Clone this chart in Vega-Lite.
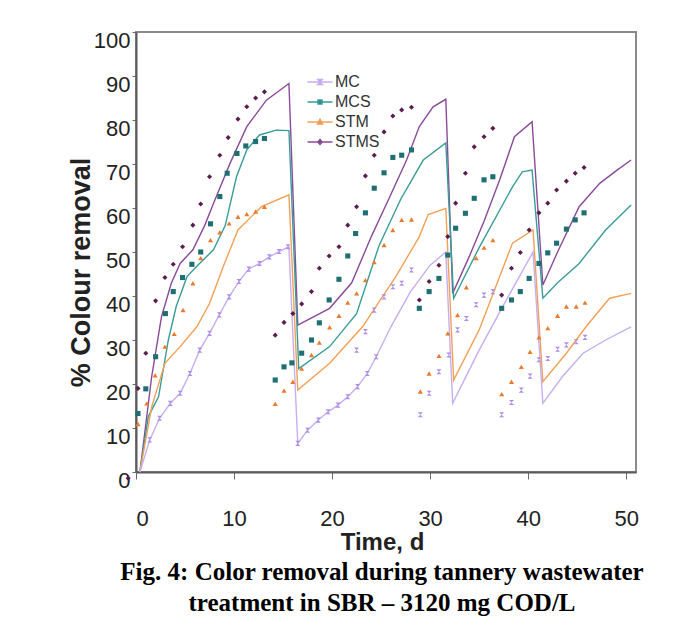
{
  "$schema": "https://vega.github.io/schema/vega-lite/v6.json",
  "width": 500,
  "height": 440,
  "autosize": {"type": "none"},
  "padding": {"left": 136, "top": 32, "right": 57, "bottom": 161},
  "background": "white",
  "title": {
    "text": ["Fig. 4: Color removal during tannery wastewater", "treatment in SBR – 3120 mg COD/L"],
    "orient": "bottom",
    "anchor": "middle",
    "font": "Liberation Serif",
    "fontSize": 25,
    "fontWeight": "bold",
    "color": "#000000",
    "lineHeight": 31,
    "offset": 6,
    "dx": -4
  },
  "config": {
    "font": "Liberation Sans",
    "view": {"stroke": "#8a8a8a", "strokeWidth": 2},
    "axis": {
      "grid": false,
      "domainColor": "#5a5a5a",
      "domainWidth": 2,
      "tickColor": "#6a6a6a",
      "labelFont": "Liberation Sans",
      "labelFontSize": 22,
      "labelColor": "#222222",
      "titleFont": "Liberation Sans",
      "titleFontWeight": "bold",
      "titleColor": "#222222"
    },
    "legend": {"padding": 0}
  },
  "datasets": {
    "pts": [
      {"series": "STMS", "day": -0.8, "pct": -1.4},
      {"series": "STMS", "day": 0.2, "pct": 19},
      {"series": "STMS", "day": 1.0, "pct": 27},
      {"series": "STMS", "day": 2.0, "pct": 38.9},
      {"series": "STMS", "day": 2.95, "pct": 44.2},
      {"series": "STMS", "day": 3.8, "pct": 47.2},
      {"series": "STMS", "day": 4.75, "pct": 51.2},
      {"series": "STMS", "day": 5.8, "pct": 56.1},
      {"series": "STMS", "day": 6.6, "pct": 60.9},
      {"series": "STMS", "day": 7.5, "pct": 67.1},
      {"series": "STMS", "day": 8.55, "pct": 72},
      {"series": "STMS", "day": 9.4, "pct": 76},
      {"series": "STMS", "day": 10.4, "pct": 80.2},
      {"series": "STMS", "day": 11.3, "pct": 83},
      {"series": "STMS", "day": 12.2, "pct": 85},
      {"series": "STMS", "day": 13.1, "pct": 86.4},
      {"series": "STMS", "day": 14.2, "pct": 31.1},
      {"series": "STMS", "day": 15.1, "pct": 34},
      {"series": "STMS", "day": 16.0, "pct": 36},
      {"series": "STMS", "day": 16.9, "pct": 38.2},
      {"series": "STMS", "day": 17.9, "pct": 41},
      {"series": "STMS", "day": 18.7, "pct": 46.3},
      {"series": "STMS", "day": 19.7, "pct": 49.1},
      {"series": "STMS", "day": 20.7, "pct": 51.2},
      {"series": "STMS", "day": 21.6, "pct": 56.1},
      {"series": "STMS", "day": 22.5, "pct": 60.3},
      {"series": "STMS", "day": 23.4, "pct": 67.3},
      {"series": "STMS", "day": 24.3, "pct": 72},
      {"series": "STMS", "day": 25.3, "pct": 77.3},
      {"series": "STMS", "day": 26.2, "pct": 80.9},
      {"series": "STMS", "day": 27.1, "pct": 82.3},
      {"series": "STMS", "day": 28.1, "pct": 82.9},
      {"series": "STMS", "day": 28.9, "pct": 39.1},
      {"series": "STMS", "day": 29.9, "pct": 43.3},
      {"series": "STMS", "day": 30.9, "pct": 47},
      {"series": "STMS", "day": 31.8, "pct": 53.5},
      {"series": "STMS", "day": 32.6, "pct": 61.1},
      {"series": "STMS", "day": 33.6, "pct": 67.9},
      {"series": "STMS", "day": 34.5, "pct": 73.9},
      {"series": "STMS", "day": 35.5, "pct": 76.2},
      {"series": "STMS", "day": 36.4, "pct": 78.1},
      {"series": "STMS", "day": 37.3, "pct": 40.2},
      {"series": "STMS", "day": 38.3, "pct": 46.3},
      {"series": "STMS", "day": 39.2, "pct": 49.9},
      {"series": "STMS", "day": 40.1, "pct": 55},
      {"series": "STMS", "day": 41.1, "pct": 58.9},
      {"series": "STMS", "day": 42.0, "pct": 61.1},
      {"series": "STMS", "day": 42.9, "pct": 64.1},
      {"series": "STMS", "day": 43.9, "pct": 66.1},
      {"series": "STMS", "day": 44.8, "pct": 67.9},
      {"series": "STMS", "day": 45.7, "pct": 69.2},
      {"series": "MCS", "day": 0.2, "pct": 13.3},
      {"series": "MCS", "day": 1.0, "pct": 18.9},
      {"series": "MCS", "day": 2.0, "pct": 26.2},
      {"series": "MCS", "day": 3.0, "pct": 36},
      {"series": "MCS", "day": 3.8, "pct": 41},
      {"series": "MCS", "day": 4.75, "pct": 44.2},
      {"series": "MCS", "day": 5.7, "pct": 47.2},
      {"series": "MCS", "day": 6.6, "pct": 50},
      {"series": "MCS", "day": 7.6, "pct": 56.4},
      {"series": "MCS", "day": 8.55, "pct": 62.6},
      {"series": "MCS", "day": 9.3, "pct": 67.9},
      {"series": "MCS", "day": 10.3, "pct": 72.4},
      {"series": "MCS", "day": 11.2, "pct": 74.1},
      {"series": "MCS", "day": 12.2, "pct": 75.1},
      {"series": "MCS", "day": 13.1, "pct": 75.8},
      {"series": "MCS", "day": 14.2, "pct": 20.9},
      {"series": "MCS", "day": 15.1, "pct": 23.9},
      {"series": "MCS", "day": 15.9, "pct": 24.8},
      {"series": "MCS", "day": 16.9, "pct": 27},
      {"series": "MCS", "day": 17.9, "pct": 30},
      {"series": "MCS", "day": 18.7, "pct": 33.9},
      {"series": "MCS", "day": 19.7, "pct": 39.1},
      {"series": "MCS", "day": 20.7, "pct": 43.8},
      {"series": "MCS", "day": 21.6, "pct": 49.1},
      {"series": "MCS", "day": 22.4, "pct": 54.2},
      {"series": "MCS", "day": 23.4, "pct": 58.9},
      {"series": "MCS", "day": 24.3, "pct": 64.5},
      {"series": "MCS", "day": 25.3, "pct": 68},
      {"series": "MCS", "day": 26.2, "pct": 71.5},
      {"series": "MCS", "day": 27.1, "pct": 72},
      {"series": "MCS", "day": 28.1, "pct": 73.2},
      {"series": "MCS", "day": 28.9, "pct": 37.2},
      {"series": "MCS", "day": 29.9, "pct": 41},
      {"series": "MCS", "day": 30.9, "pct": 44},
      {"series": "MCS", "day": 31.8, "pct": 49.3},
      {"series": "MCS", "day": 32.6, "pct": 55.4},
      {"series": "MCS", "day": 33.6, "pct": 58.8},
      {"series": "MCS", "day": 34.5, "pct": 62.2},
      {"series": "MCS", "day": 35.5, "pct": 66.4},
      {"series": "MCS", "day": 36.4, "pct": 67.1},
      {"series": "MCS", "day": 37.3, "pct": 37.2},
      {"series": "MCS", "day": 38.3, "pct": 39.1},
      {"series": "MCS", "day": 39.2, "pct": 41},
      {"series": "MCS", "day": 40.1, "pct": 44},
      {"series": "MCS", "day": 41.1, "pct": 47.4},
      {"series": "MCS", "day": 42.0, "pct": 49.8},
      {"series": "MCS", "day": 42.9, "pct": 52},
      {"series": "MCS", "day": 43.9, "pct": 55.2},
      {"series": "MCS", "day": 44.8, "pct": 57.3},
      {"series": "MCS", "day": 45.7, "pct": 58.9},
      {"series": "STM", "day": 0.2, "pct": 10.9},
      {"series": "STM", "day": 1.1, "pct": 15.6},
      {"series": "STM", "day": 1.95, "pct": 22},
      {"series": "STM", "day": 2.95, "pct": 28.5},
      {"series": "STM", "day": 3.9, "pct": 31.4},
      {"series": "STM", "day": 4.8, "pct": 36.8},
      {"series": "STM", "day": 5.8, "pct": 42.9},
      {"series": "STM", "day": 6.6, "pct": 48.6},
      {"series": "STM", "day": 7.6, "pct": 52.7},
      {"series": "STM", "day": 8.55, "pct": 54.5},
      {"series": "STM", "day": 9.5, "pct": 56.5},
      {"series": "STM", "day": 10.4, "pct": 58},
      {"series": "STM", "day": 11.3, "pct": 58.6},
      {"series": "STM", "day": 12.2, "pct": 59.2},
      {"series": "STM", "day": 13.1, "pct": 60.3},
      {"series": "STM", "day": 14.2, "pct": 15.5},
      {"series": "STM", "day": 15.1, "pct": 18.5},
      {"series": "STM", "day": 16.0, "pct": 20.5},
      {"series": "STM", "day": 16.9, "pct": 23.5},
      {"series": "STM", "day": 17.9, "pct": 26.6},
      {"series": "STM", "day": 18.7, "pct": 29.4},
      {"series": "STM", "day": 19.75, "pct": 32.9},
      {"series": "STM", "day": 20.7, "pct": 35.5},
      {"series": "STM", "day": 21.6, "pct": 38.5},
      {"series": "STM", "day": 22.5, "pct": 40.6},
      {"series": "STM", "day": 23.4, "pct": 43.6},
      {"series": "STM", "day": 24.3, "pct": 47.7},
      {"series": "STM", "day": 25.3, "pct": 51.6},
      {"series": "STM", "day": 26.2, "pct": 55},
      {"series": "STM", "day": 27.1, "pct": 57.3},
      {"series": "STM", "day": 28.1, "pct": 57.4},
      {"series": "STM", "day": 29.0, "pct": 18.3},
      {"series": "STM", "day": 29.9, "pct": 22.4},
      {"series": "STM", "day": 30.9, "pct": 26.4},
      {"series": "STM", "day": 31.8, "pct": 31.5},
      {"series": "STM", "day": 32.8, "pct": 35.7},
      {"series": "STM", "day": 33.7, "pct": 42},
      {"series": "STM", "day": 34.7, "pct": 48.6},
      {"series": "STM", "day": 35.5, "pct": 51},
      {"series": "STM", "day": 36.4, "pct": 52.7},
      {"series": "STM", "day": 37.3, "pct": 17.7},
      {"series": "STM", "day": 38.3, "pct": 20.5},
      {"series": "STM", "day": 39.3, "pct": 23.9},
      {"series": "STM", "day": 40.2, "pct": 27.3},
      {"series": "STM", "day": 41.1, "pct": 30.6},
      {"series": "STM", "day": 42.0, "pct": 32.7},
      {"series": "STM", "day": 43.0, "pct": 35.5},
      {"series": "STM", "day": 43.9, "pct": 37.6},
      {"series": "STM", "day": 44.9, "pct": 37.6},
      {"series": "STM", "day": 45.8, "pct": 38.5},
      {"series": "MC", "day": 1.4, "pct": 7.3},
      {"series": "MC", "day": 2.4, "pct": 12.2},
      {"series": "MC", "day": 3.5, "pct": 15.6},
      {"series": "MC", "day": 4.5, "pct": 17.9},
      {"series": "MC", "day": 5.5, "pct": 22.4},
      {"series": "MC", "day": 6.5, "pct": 27.7},
      {"series": "MC", "day": 7.5, "pct": 31.5},
      {"series": "MC", "day": 8.5, "pct": 35.7},
      {"series": "MC", "day": 9.5, "pct": 39.8},
      {"series": "MC", "day": 10.5, "pct": 43.3},
      {"series": "MC", "day": 11.5, "pct": 46.1},
      {"series": "MC", "day": 12.6, "pct": 47.4},
      {"series": "MC", "day": 13.6, "pct": 48.9},
      {"series": "MC", "day": 14.6, "pct": 50.1},
      {"series": "MC", "day": 15.5, "pct": 51.2},
      {"series": "MC", "day": 16.5, "pct": 6.5},
      {"series": "MC", "day": 17.5, "pct": 9.5},
      {"series": "MC", "day": 18.6, "pct": 11.8},
      {"series": "MC", "day": 19.6, "pct": 13.7},
      {"series": "MC", "day": 20.6, "pct": 15.2},
      {"series": "MC", "day": 21.6, "pct": 17.1},
      {"series": "MC", "day": 22.6, "pct": 19.4},
      {"series": "MC", "day": 23.6, "pct": 22.4},
      {"series": "MC", "day": 24.5, "pct": 26.2},
      {"series": "MC", "day": 22.5, "pct": 27.7},
      {"series": "MC", "day": 23.4, "pct": 31.9},
      {"series": "MC", "day": 24.3, "pct": 36.8},
      {"series": "MC", "day": 25.3, "pct": 39.8},
      {"series": "MC", "day": 26.2, "pct": 42.1},
      {"series": "MC", "day": 27.1, "pct": 42.9},
      {"series": "MC", "day": 28.1, "pct": 45.9},
      {"series": "MC", "day": 29.0, "pct": 13},
      {"series": "MC", "day": 29.9, "pct": 17.9},
      {"series": "MC", "day": 30.9, "pct": 22.8},
      {"series": "MC", "day": 31.9, "pct": 26.6},
      {"series": "MC", "day": 32.8, "pct": 32.3},
      {"series": "MC", "day": 33.7, "pct": 34.9},
      {"series": "MC", "day": 34.7, "pct": 38},
      {"series": "MC", "day": 35.5, "pct": 40.2},
      {"series": "MC", "day": 36.4, "pct": 41},
      {"series": "MC", "day": 37.3, "pct": 13},
      {"series": "MC", "day": 38.3, "pct": 15.8},
      {"series": "MC", "day": 39.3, "pct": 18.6},
      {"series": "MC", "day": 40.2, "pct": 21.8},
      {"series": "MC", "day": 41.1, "pct": 25.5},
      {"series": "MC", "day": 42.0, "pct": 25.8},
      {"series": "MC", "day": 43.0, "pct": 27.9},
      {"series": "MC", "day": 43.9, "pct": 28.9},
      {"series": "MC", "day": 44.9, "pct": 29.6},
      {"series": "MC", "day": 45.8, "pct": 30.6}
    ],
    "lines": [
      {"series": "STMS", "day": 0.4, "pct": 0},
      {"series": "STMS", "day": 1.6, "pct": 21.7},
      {"series": "STMS", "day": 2.6, "pct": 35.3},
      {"series": "STMS", "day": 3.6, "pct": 42.9},
      {"series": "STMS", "day": 4.5, "pct": 47.4},
      {"series": "STMS", "day": 5.8, "pct": 50.5},
      {"series": "STMS", "day": 7.0, "pct": 56},
      {"series": "STMS", "day": 7.9, "pct": 61},
      {"series": "STMS", "day": 9.6, "pct": 70.2},
      {"series": "STMS", "day": 11.3, "pct": 78.5},
      {"series": "STMS", "day": 13.3, "pct": 84.5},
      {"series": "STMS", "day": 15.6, "pct": 88.3},
      {"series": "STMS", "day": 16.5, "pct": 33.4},
      {"series": "STMS", "day": 19.75, "pct": 37.2},
      {"series": "STMS", "day": 22.0, "pct": 43},
      {"series": "STMS", "day": 24.0, "pct": 53.5},
      {"series": "STMS", "day": 25.9, "pct": 62.6},
      {"series": "STMS", "day": 27.6, "pct": 70.9},
      {"series": "STMS", "day": 28.9, "pct": 78.5},
      {"series": "STMS", "day": 30.3, "pct": 83},
      {"series": "STMS", "day": 31.6, "pct": 84.7},
      {"series": "STMS", "day": 32.3, "pct": 40.6},
      {"series": "STMS", "day": 34.0, "pct": 49},
      {"series": "STMS", "day": 35.5, "pct": 57},
      {"series": "STMS", "day": 37.1, "pct": 66.4},
      {"series": "STMS", "day": 38.6, "pct": 76.2},
      {"series": "STMS", "day": 40.4, "pct": 79.6},
      {"series": "STMS", "day": 41.5, "pct": 42.5},
      {"series": "STMS", "day": 43.0, "pct": 50},
      {"series": "STMS", "day": 45.2, "pct": 60.3},
      {"series": "STMS", "day": 47.3, "pct": 65.6},
      {"series": "STMS", "day": 49.0, "pct": 68.5},
      {"series": "STMS", "day": 50.5, "pct": 70.9},
      {"series": "MCS", "day": 0.4, "pct": 0},
      {"series": "MCS", "day": 1.25, "pct": 12.6},
      {"series": "MCS", "day": 2.3, "pct": 17.1},
      {"series": "MCS", "day": 3.3, "pct": 30},
      {"series": "MCS", "day": 4.1, "pct": 37.6},
      {"series": "MCS", "day": 5.2, "pct": 44.4},
      {"series": "MCS", "day": 6.3, "pct": 47},
      {"series": "MCS", "day": 7.9, "pct": 50.5},
      {"series": "MCS", "day": 9.1, "pct": 56},
      {"series": "MCS", "day": 10.25, "pct": 67.1},
      {"series": "MCS", "day": 11.3, "pct": 73.2},
      {"series": "MCS", "day": 12.6, "pct": 76.6},
      {"series": "MCS", "day": 14.3, "pct": 77.7},
      {"series": "MCS", "day": 15.6, "pct": 77.6},
      {"series": "MCS", "day": 16.6, "pct": 23.5},
      {"series": "MCS", "day": 19.75, "pct": 28.5},
      {"series": "MCS", "day": 22.5, "pct": 36},
      {"series": "MCS", "day": 24.8, "pct": 51.5},
      {"series": "MCS", "day": 27.0, "pct": 62},
      {"series": "MCS", "day": 29.3, "pct": 70.9},
      {"series": "MCS", "day": 31.6, "pct": 74.8},
      {"series": "MCS", "day": 32.4, "pct": 39.5},
      {"series": "MCS", "day": 35.0, "pct": 51},
      {"series": "MCS", "day": 38.4, "pct": 64.8},
      {"series": "MCS", "day": 39.4, "pct": 68.2},
      {"series": "MCS", "day": 40.4, "pct": 68.6},
      {"series": "MCS", "day": 41.5, "pct": 39.5},
      {"series": "MCS", "day": 43.0, "pct": 43},
      {"series": "MCS", "day": 45.2, "pct": 47.4},
      {"series": "MCS", "day": 47.9, "pct": 55},
      {"series": "MCS", "day": 50.5, "pct": 60.7},
      {"series": "STM", "day": 0.4, "pct": 0},
      {"series": "STM", "day": 1.6, "pct": 14.8},
      {"series": "STM", "day": 2.95, "pct": 24.7},
      {"series": "STM", "day": 4.5, "pct": 28.5},
      {"series": "STM", "day": 6.2, "pct": 33},
      {"series": "STM", "day": 7.5, "pct": 38.3},
      {"series": "STM", "day": 8.9, "pct": 46.7},
      {"series": "STM", "day": 10.4, "pct": 55},
      {"series": "STM", "day": 12.8, "pct": 60.3},
      {"series": "STM", "day": 15.6, "pct": 63},
      {"series": "STM", "day": 16.5, "pct": 18.6},
      {"series": "STM", "day": 19.75, "pct": 24.7},
      {"series": "STM", "day": 23.1, "pct": 33},
      {"series": "STM", "day": 26.5, "pct": 44.4},
      {"series": "STM", "day": 28.9, "pct": 53.5},
      {"series": "STM", "day": 29.8, "pct": 58.5},
      {"series": "STM", "day": 31.6, "pct": 59.9},
      {"series": "STM", "day": 32.4, "pct": 20.9},
      {"series": "STM", "day": 35.0, "pct": 32.3},
      {"series": "STM", "day": 38.4, "pct": 52},
      {"series": "STM", "day": 40.5, "pct": 55},
      {"series": "STM", "day": 41.5, "pct": 20.5},
      {"series": "STM", "day": 43.9, "pct": 27},
      {"series": "STM", "day": 45.9, "pct": 33},
      {"series": "STM", "day": 48.3, "pct": 39.5},
      {"series": "STM", "day": 50.5, "pct": 40.6},
      {"series": "MC", "day": 0.4, "pct": 0},
      {"series": "MC", "day": 1.4, "pct": 7.3},
      {"series": "MC", "day": 2.4, "pct": 12.2},
      {"series": "MC", "day": 3.5, "pct": 15.6},
      {"series": "MC", "day": 4.5, "pct": 17.9},
      {"series": "MC", "day": 5.5, "pct": 22.4},
      {"series": "MC", "day": 6.5, "pct": 27.7},
      {"series": "MC", "day": 7.5, "pct": 31.5},
      {"series": "MC", "day": 8.5, "pct": 35.7},
      {"series": "MC", "day": 9.5, "pct": 39.8},
      {"series": "MC", "day": 10.5, "pct": 43.3},
      {"series": "MC", "day": 11.5, "pct": 46.1},
      {"series": "MC", "day": 12.6, "pct": 47.4},
      {"series": "MC", "day": 13.6, "pct": 48.9},
      {"series": "MC", "day": 14.6, "pct": 50.1},
      {"series": "MC", "day": 15.6, "pct": 51.2},
      {"series": "MC", "day": 16.5, "pct": 6.5},
      {"series": "MC", "day": 17.5, "pct": 9.5},
      {"series": "MC", "day": 18.6, "pct": 11.8},
      {"series": "MC", "day": 19.6, "pct": 13.7},
      {"series": "MC", "day": 20.6, "pct": 15.2},
      {"series": "MC", "day": 21.6, "pct": 17.1},
      {"series": "MC", "day": 22.6, "pct": 19.4},
      {"series": "MC", "day": 23.6, "pct": 22.4},
      {"series": "MC", "day": 24.5, "pct": 26.2},
      {"series": "MC", "day": 26.0, "pct": 33},
      {"series": "MC", "day": 28.0, "pct": 41},
      {"series": "MC", "day": 30.0, "pct": 47},
      {"series": "MC", "day": 31.6, "pct": 50},
      {"series": "MC", "day": 32.3, "pct": 15.6},
      {"series": "MC", "day": 35.0, "pct": 27.7},
      {"series": "MC", "day": 37.4, "pct": 37.6},
      {"series": "MC", "day": 40.5, "pct": 50},
      {"series": "MC", "day": 41.5, "pct": 15.6},
      {"series": "MC", "day": 43.5, "pct": 21.7},
      {"series": "MC", "day": 45.6, "pct": 27},
      {"series": "MC", "day": 47.9, "pct": 30},
      {"series": "MC", "day": 50.5, "pct": 33}
    ]
  },
  "encoding": {
    "x": {
      "field": "day", "type": "quantitative",
      "scale": {"domain": [0, 51], "nice": false, "zero": false},
      "axis": {"title": "Time, d", "titleFontSize": 24, "values": [0, 10, 20, 30, 40, 50], "tickSize": 7, "labelPadding": 29, "titleX": 246, "titleY": 70, "titleBaseline": "middle"}
    },
    "y": {
      "field": "pct", "type": "quantitative",
      "scale": {"domain": [0, 100], "nice": false},
      "axis": {"title": "% Colour removal", "titleFontSize": 27, "values": [0, 10, 20, 30, 40, 50, 60, 70, 80, 90, 100], "tickSize": 4, "labelPadding": 2, "labelOffset": 8, "titleX": -55, "titleY": 240, "titleBaseline": "middle"}
    }
  },
  "layer": [
    {
      "data": {"name": "lines"},
      "mark": {"type": "line", "strokeWidth": 1.4, "interpolate": "linear"},
      "encoding": {
        "color": {
          "field": "series", "type": "nominal",
          "scale": {"domain": ["MC", "MCS", "STM", "STMS"], "range": ["#c6aef0", "#3a9c98", "#f2a055", "#8a4a9a"]},
          "legend": {
            "title": null, "orient": "none", "legendX": 176, "legendY": 42,
            "symbolType": "M-2.5,0H2.5", "symbolSize": 100, "symbolStrokeWidth": 1.5,
            "labelFontSize": 16, "labelColor": "#333333", "labelFont": "Liberation Sans",
            "rowPadding": 4, "labelOffset": 7,
            "encode": {
              "symbols": {
                "update": {
                  "shape": {"signal": "datum.value === 'MC' ? 'M-2.5,0H2.5M-0.45,-0.5H0.45L-0.45,0.5H0.45Z' : datum.value === 'MCS' ? 'M-2.5,0H2.5M-0.4,-0.4H0.4V0.4H-0.4Z' : datum.value === 'STM' ? 'M-2.5,0H2.5M0,-0.55L0.5,0.4H-0.5Z' : 'M-2.5,0H2.5M0,-0.5L0.45,0L0,0.5L-0.45,0Z'"},
                  "fill": {"signal": "datum.value === 'MC' ? '#b08ee6' : datum.value === 'MCS' ? '#1f6e72' : datum.value === 'STM' ? '#ea7a2c' : '#5a1e4e'"},
                  "fillOpacity": {"value": 1}
                }
              }
            }
          }
        },
        "order": {"field": "day", "type": "quantitative"}
      }
    },
    {
      "data": {"name": "pts"},
      "mark": {"type": "point", "filled": true, "size": 26, "opacity": 1},
      "encoding": {
        "color": {
          "field": "series", "type": "nominal",
          "scale": {"domain": ["MC", "MCS", "STM", "STMS"], "range": ["#b08ee6", "#1f6e72", "#ea7a2c", "#5a1e4e"]},
          "legend": null
        },
        "shape": {
          "field": "series", "type": "nominal",
          "scale": {"domain": ["MC", "MCS", "STM", "STMS"], "range": ["M-1,-1H1L-1,1H1Z", "square", "triangle-up", "diamond"]},
          "legend": null
        }
      }
    }
  ],
  "resolve": {"scale": {"color": "independent", "shape": "independent"}}
}
